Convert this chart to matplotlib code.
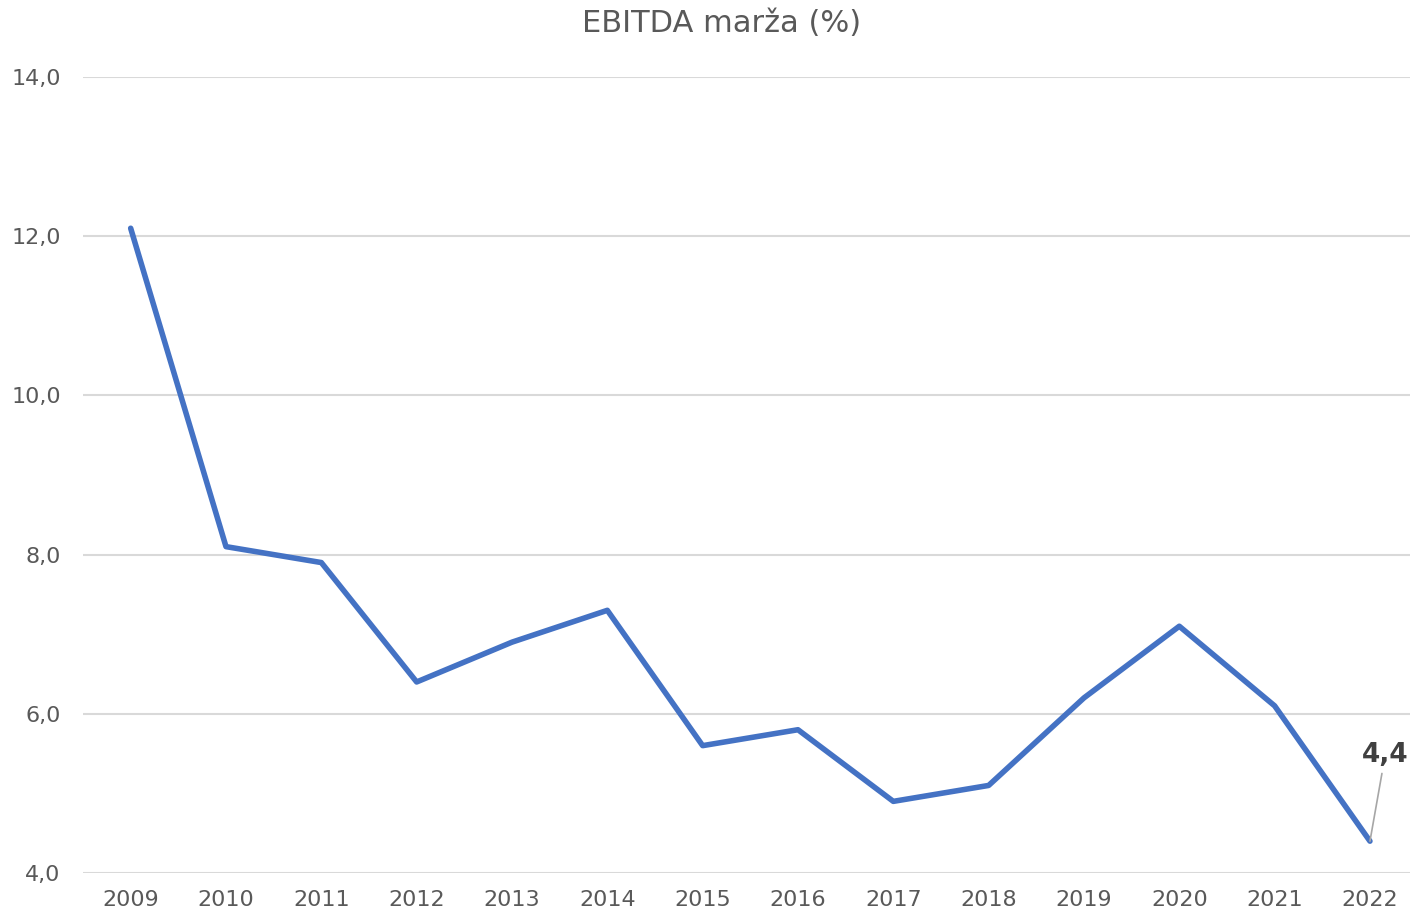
import matplotlib
matplotlib.use("Agg")
import matplotlib.pyplot as plt
import numpy as np

years = ["2009", "2010", "2011", "2012", "2013", "2014", "2015",
         "2016", "2017", "2018", "2019", "2020", "2021", "2022"]
ebitda_margin = [12.1, 8.1, 7.9, 6.4, 6.9, 7.3, 5.6, 5.8, 4.9, 5.1, 6.2, 7.1, 6.1, 4.4]
y_ticks = [4.0, 6.0, 8.0, 10.0, 12.0, 14.0]

plt.rcParams['font.family'] = ['DejaVu Sans']

fig = plt.figure(figsize=(14.1, 9.16), dpi=100)
ax = fig.add_axes([83 / 1410, 43 / 916, 1 - 83 / 1410, (873 - 77) / 916])

x = np.arange(len(years))
ax.plot(x, ebitda_margin, color="#4472C4", linewidth=4, solid_capstyle="round",
        solid_joinstyle="round", zorder=3)

ax.set_xlim(-0.5, len(years) - 0.58)
ax.set_ylim(4, 14)
ax.set_yticks(y_ticks)
ax.set_yticklabels([("%.1f" % v).replace(".", ",") for v in y_ticks])
ax.set_xticks(x)
ax.set_xticklabels(years)

ax.grid(axis="y", color="#D9D9D9", linewidth=1.5, zorder=0)
for s in ax.spines.values():
    s.set_visible(False)
ax.tick_params(axis="both", length=0, colors="#595959", labelsize=16)
ax.tick_params(axis="y", pad=16)
ax.tick_params(axis="x", pad=12)

# label on the last point
last = len(years) - 1
ax.annotate(("%.1f" % ebitda_margin[last]).replace(".", ","),
            xy=(x[last], ebitda_margin[last]), xytext=(x[last] + 0.16, 5.32),
            fontsize=19, fontweight="bold", color="#404040", ha="center", va="bottom",
            arrowprops=dict(arrowstyle="-", color="#A6A6A6", linewidth=1.2,
                            shrinkA=2, shrinkB=0))

fig.text(0.512, 1 - 24 / 916, "EBITDA marža (%)", ha="center", va="center",
         fontsize=22, color="#595959")

fig.savefig("out.png", dpi=100)
